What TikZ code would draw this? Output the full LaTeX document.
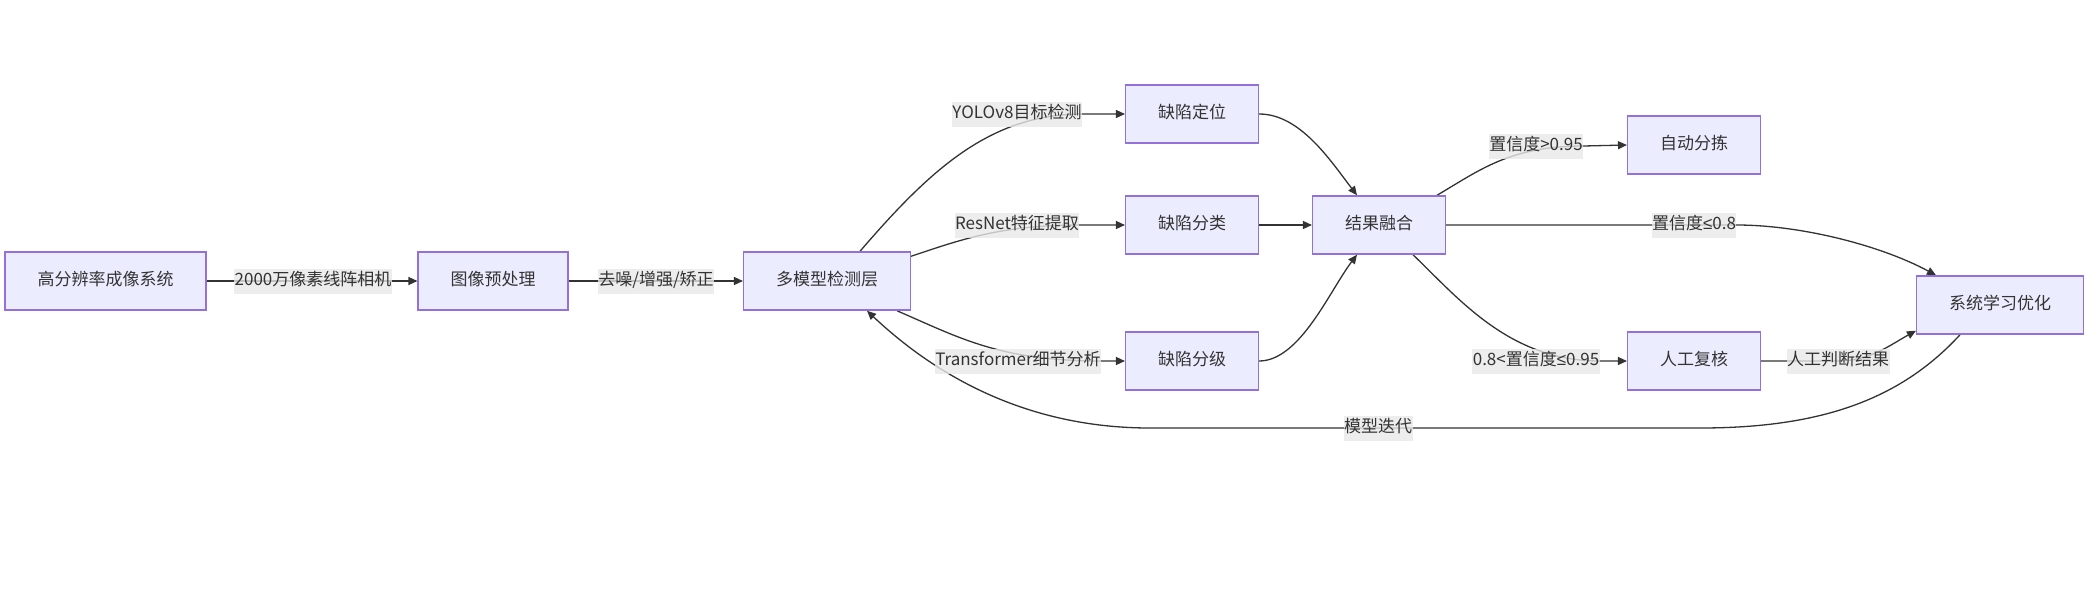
\documentclass[tikz,border=0pt]{standalone}
\usepackage{fontspec}
\usepackage{tikz}
\usetikzlibrary{arrows.meta, positioning, backgrounds}
\usepackage{xcolor}
\newfontfamily\cjk{Noto Sans CJK SC}
\newfontfamily\opfont{Liberation Sans}
\newcommand{\leqsym}{{\opfont ≤}}
\definecolor{boxfill}{HTML}{ECECFF}
\definecolor{boxline}{HTML}{9370DB}
\definecolor{inkgray}{HTML}{333333}
\definecolor{labelbg}{HTML}{E8E8E8}
\tikzset{
    flow box/.style={
        rectangle,
        draw=boxline,
        line width=1.5pt,
        fill=boxfill,
        text=inkgray,
        inner xsep=32.3pt,
        text height=13pt,
        text depth=4pt,
        minimum height=58pt,
        font=\cjk\fontsize{17}{20}\selectfont
    },
    edge label/.style={
        rectangle,
        fill=labelbg,
        fill opacity=0.8,
        text opacity=1,
        text=inkgray,
        inner xsep=0.5pt,
        inner ysep=4pt,
        text height=13pt,
        text depth=4pt,
        font=\cjk\fontsize{17}{20}\selectfont
    },
    flow arrow/.style={
        -{Triangle[length=9pt,width=8pt]},
        line width=1.3pt,
        draw=inkgray
    }
}
\begin{document}
\begin{tikzpicture}[x=1pt, y=-1pt]

\useasboundingbox (0, 0) rectangle (2090, 614);

% Acquisition and preprocessing
\node[flow box] (imaging) at (105.5, 281) {高分辨率成像系统};
\node[flow box] (preproc) at (493, 281) {图像预处理};
\node[flow box] (multimodel) at (827, 281) {多模型检测层};

% Detection branches
\node[flow box] (locate) at (1192, 114) {缺陷定位};
\node[flow box] (classify) at (1192, 225) {缺陷分类};
\node[flow box] (grade) at (1192, 361) {缺陷分级};

% Fusion and decisions
\node[flow box] (fusion) at (1379, 225) {结果融合};
\node[flow box] (sorting) at (1694, 145) {自动分拣};
\node[flow box] (review) at (1694, 361) {人工复核};
\node[flow box] (learning) at (2000, 305) {系统学习优化};

% Edge labels
\node[edge label] (camera) at (313, 281) {2000万像素线阵相机};
\node[edge label] (denoise) at (656, 281) {去噪/增强/矫正};
\node[edge label] (yolo) at (1017, 114) {YOLOv8目标检测};
\node[edge label] (resnet) at (1017, 225) {ResNet特征提取};
\node[edge label] (transformer) at (1018, 361) {Transformer细节分析};
\node[edge label] (high) at (1536, 146) {置信度>0.95};
\node[edge label] (low) at (1694, 225) {置信度\leqsym0.8};
\node[edge label] (mid) at (1536, 361) {0.8<置信度\leqsym0.95};
\node[edge label] (judge) at (1838, 361) {人工判断结果};
\node[edge label] (iterate) at (1378, 428) {模型迭代};

% === CONNECTORS ===
\begin{scope}[on background layer]
    \draw[flow arrow] (imaging) -- (preproc);
    \draw[flow arrow] (preproc) -- (multimodel);

    % Model branches
    \draw[flow arrow] ([xshift=33pt]multimodel.north) .. controls (930, 170) and (990, 114) .. (yolo.east) -- (locate.west);
    \draw[flow arrow] ([yshift=-5pt]multimodel.north east) .. controls (960, 240) and (1000, 225) .. (resnet.east) -- (classify.west);
    \draw[flow arrow] ([xshift=70pt]multimodel.south) .. controls (960, 338) and (1000, 361) .. (transformer.east) -- (grade.west);

    % Into fusion
    \draw[flow arrow] (locate.east) .. controls (1300, 114) and (1330, 160) .. ([xshift=-22pt]fusion.north);
    \draw[flow arrow] (classify) -- (fusion);
    \draw[flow arrow] (grade.east) .. controls (1300, 361) and (1330, 290) .. ([xshift=-22pt]fusion.south);

    % Confidence routing
    \draw[flow arrow] ([xshift=58pt]fusion.north) .. controls (1480, 170) and (1510, 146) .. (high.east) -- (sorting.west);
    \draw[flow arrow] (fusion.east) -- (low.east) .. controls (1800, 225) and (1880, 245) .. ([xshift=-64pt]learning.north);
    \draw[flow arrow] ([xshift=34pt]fusion.south) .. controls (1460, 300) and (1510, 361) .. (mid.east) -- (review.west);
    \draw[flow arrow] (review.east) -- (judge.center) .. controls (1870, 361) and (1890, 345) .. ([yshift=4pt]learning.south west);

    % Model iteration feedback
    \draw[flow arrow] ([xshift=-40pt]learning.south) .. controls (1900, 400) and (1820, 428) .. (1700, 428)
        -- (iterate.center) -- (1150, 428) .. controls (1020, 428) and (930, 370) .. ([xshift=40pt]multimodel.south);
\end{scope}

\end{tikzpicture}
\end{document}
